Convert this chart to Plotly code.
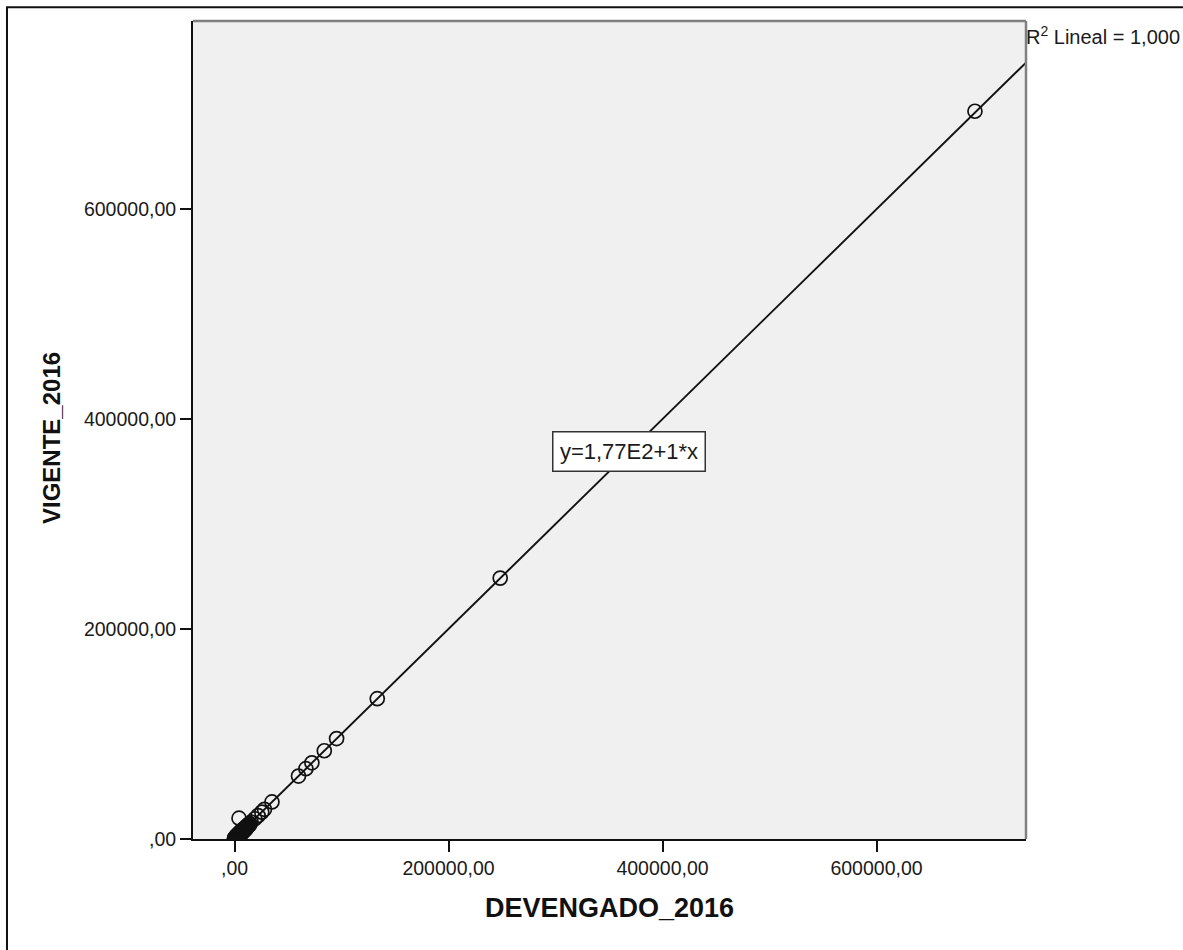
import plotly.graph_objects as go

# Budget per unit: executed (DEVENGADO_2016) vs current allocation (VIGENTE_2016)
devengado = [
    692000, 248300, 133400, 95400, 83900, 72300, 66700, 59800,
    35000, 28000, 25500, 22000, 19000, 4200,
    15500, 14400, 13400, 12500, 11600, 10800, 10000, 9200, 8500, 7800,
    7100, 6500, 5900, 5300, 4800, 4300, 3800, 3400, 3000, 2600, 2300,
    2000, 1700, 1400, 1200, 1000, 800, 600, 450, 300, 150, 0,
    6800, 6100, 5600, 5000, 4500, 4000, 3600, 3200, 2800, 2450,
    2150, 1850, 1550, 1300, 1100, 900, 700, 520, 380, 220, 80,
    9600, 8800, 8100, 7400, 11200, 12000, 13000, 14000,
    1900, 2900, 3900, 4900, 5800, 6700, 7600, 8400, 9300, 10300,
    1000, 2100, 3300, 4400, 5500, 6300, 7000,
]
vigente = [
    693500, 248600, 133700, 95700, 84100, 72600, 67000, 60000,
    35300, 28300, 25600, 22300, 19300, 19800,
    16200, 14700, 13900, 12500, 12200, 10900, 10600, 9100, 8700, 7600,
    7300, 6400, 6000, 5200, 4900, 4300, 3900, 3500, 3100, 2400, 2700,
    1800, 2100, 1300, 1500, 900, 1100, 500, 700, 200, 350, 100,
    5900, 7000, 4800, 6100, 3600, 5200, 2700, 4300, 2100, 3500,
    1500, 2800, 900, 2300, 500, 1700, 300, 1200, 150, 800, 600,
    10400, 8200, 9300, 7000, 12000, 11300, 13700, 13300,
    500, 1400, 2600, 3500, 4400, 5600, 6500, 7300, 8200, 9100,
    2200, 3400, 4500, 5700, 6900, 7600, 8400,
]

tick_vals = [0, 200000, 400000, 600000]
tick_text = [",00", "200000,00", "400000,00", "600000,00"]

# Linear fit reported for the data
intercept = 177.0
slope = 1.0
equation_text = "y=1,77E2+1*x"
r2_text = "R<sup>2</sup> Lineal = 1,000"

x_range = [-38800, 739700]
y_range = [0, 779500]

fit_x = list(x_range)
fit_y = [intercept + slope * v for v in fit_x]
label_x = 369000
label_y = intercept + slope * label_x

FONT = "Liberation Sans, Arial, sans-serif"

fig = go.Figure()

fig.add_trace(go.Scatter(
    x=fit_x, y=fit_y, mode="lines",
    line=dict(color="#111111", width=1.9),
    hoverinfo="skip", showlegend=False,
))

fig.add_trace(go.Scatter(
    x=devengado, y=vigente, mode="markers",
    marker=dict(symbol="circle-open", size=14, color="#111111",
                line=dict(color="#111111", width=1.7)),
    showlegend=False,
))

fig.update_layout(
    width=1183, height=950,
    margin=dict(l=193, r=157, t=21, b=111, pad=0),
    paper_bgcolor="white",
    plot_bgcolor="#f0f0f0",
    font=dict(family=FONT, size=19, color="#1a1a1a"),
    showlegend=False,
)

axis_common = dict(
    tickvals=tick_vals, ticktext=tick_text,
    showgrid=False, zeroline=False,
    showline=True, linecolor="#111111", linewidth=2,
    ticks="outside", ticklen=11, tickwidth=1.6, tickcolor="#111111",
    tickfont=dict(family=FONT, size=19.5, color="#1a1a1a"),
    mirror=False,
)
fig.update_xaxes(range=x_range, **axis_common)
fig.update_yaxes(range=y_range, **axis_common)

# Grey frame on the top and right sides of the plotting area
fig.add_shape(type="line", xref="paper", yref="paper", x0=0, x1=1, y0=1, y1=1,
              line=dict(color="#808080", width=2.5))
fig.add_shape(type="line", xref="paper", yref="paper", x0=1, x1=1, y0=0, y1=1,
              line=dict(color="#808080", width=2.5))

# Outer chart border (left and top edges)
fig.add_shape(type="path", xref="paper", yref="paper",
              path="M -0.2233,-0.25 L -0.2233,1.0167 L 1.3,1.0167",
              line=dict(color="#111111", width=2))

# Fit equation on the line
fig.add_annotation(
    x=label_x, y=label_y, xref="x", yref="y",
    text=equation_text, showarrow=False,
    font=dict(family=FONT, size=22, color="#1a1a1a"),
    bgcolor="white", bordercolor="#333333", borderwidth=1.5, borderpad=3,
    width=145, height=32,
)

# R-squared label beside the top-right corner
fig.add_annotation(
    x=1, y=0.9985, xref="paper", yref="paper",
    xanchor="left", yanchor="top",
    text=r2_text, showarrow=False,
    font=dict(family=FONT, size=20, color="#1a1a1a"),
    borderpad=0, xshift=-1,
)

# Axis titles
fig.add_annotation(
    x=0.5, y=-0.0845, xref="paper", yref="paper",
    xanchor="center", yanchor="middle",
    text="<b>DEVENGADO_2016</b>", showarrow=False,
    font=dict(family=FONT, size=27, color="#111111"),
)
fig.add_annotation(
    x=-0.1705, y=0.4902, xref="paper", yref="paper",
    xanchor="center", yanchor="middle", textangle=-90,
    text="<b>VIGENTE_2016</b>", showarrow=False,
    font=dict(family=FONT, size=24, color="#111111"),
)

fig.write_html("out.html")
